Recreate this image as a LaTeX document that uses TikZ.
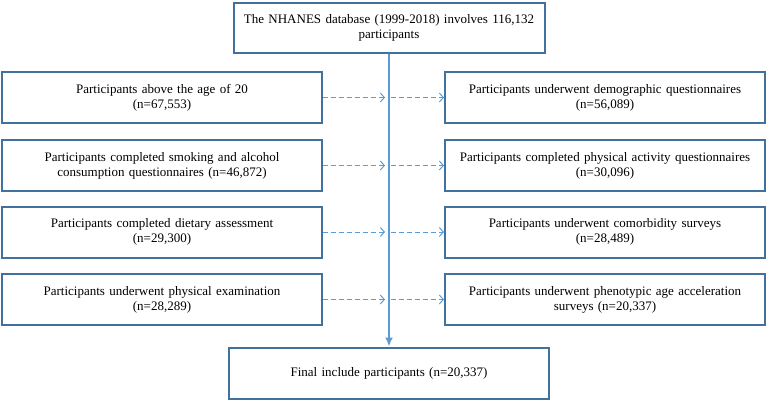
\documentclass[tikz,border=0pt]{standalone}
\usepackage{fontspec}
\setmainfont{Liberation Serif}
\usepackage{xcolor}
\usetikzlibrary{shapes,arrows,arrows.meta,positioning,calc}

\definecolor{boxblue}{RGB}{65,113,156}
\definecolor{lineblue}{RGB}{91,155,213}

\begin{document}
\begin{tikzpicture}[x=1pt, y=-1pt]
    % Define styles
    \tikzstyle{stage} = [rectangle, draw=boxblue, line width=2pt, fill=white, text width=310pt, align=center, minimum width=320pt, minimum height=51pt, inner sep=0pt, font=\fontsize{13}{15}\selectfont]
    \tikzstyle{spine} = [draw=lineblue, line width=2pt]
    \tikzstyle{branch} = [draw=lineblue, line width=1pt, dash pattern=on 5pt off 3pt, -{Straight Barb[length=4pt, width=9pt]}]
    \useasboundingbox (0,0) rectangle (767,401);

    % Top and bottom boxes
    \node[stage, minimum width=311pt, minimum height=50pt] (top) at (389,28) {The NHANES database (1999-2018) involves 116,132\\participants};
    \node[stage] (final) at (389,373) {Final include participants (n=20,337)};

    % Left column
    \node[stage] (l1) at (162,97.5) {Participants above the age of 20\\(n=67,553)};
    \node[stage] (l2) at (162,165.5) {Participants completed smoking and alcohol\\consumption questionnaires (n=46,872)};
    \node[stage] (l3) at (162,232) {Participants completed dietary assessment\\(n=29,300)};
    \node[stage] (l4) at (162,299.5) {Participants underwent physical examination\\(n=28,289)};

    % Right column
    \node[stage] (r1) at (605,97.5) {Participants underwent demographic questionnaires\\(n=56,089)};
    \node[stage] (r2) at (605,165.5) {Participants completed physical activity questionnaires\\(n=30,096)};
    \node[stage] (r3) at (605,232) {Participants underwent comorbidity surveys\\(n=28,489)};
    \node[stage] (r4) at (605,299.5) {Participants underwent phenotypic age acceleration\\surveys (n=20,337)};

    % Main flow
    \draw[spine, -{Latex[length=9pt, width=8pt]}] (top) -- (final);

    % Side branches
    \foreach \i in {1,...,4} {
        \coordinate (s\i) at (l\i -| top);
        \draw[branch, shorten >=4pt] (l\i) -- (s\i);
        \draw[branch, shorten <=2pt] (s\i) -- (r\i);
    }
\end{tikzpicture}
\end{document}
